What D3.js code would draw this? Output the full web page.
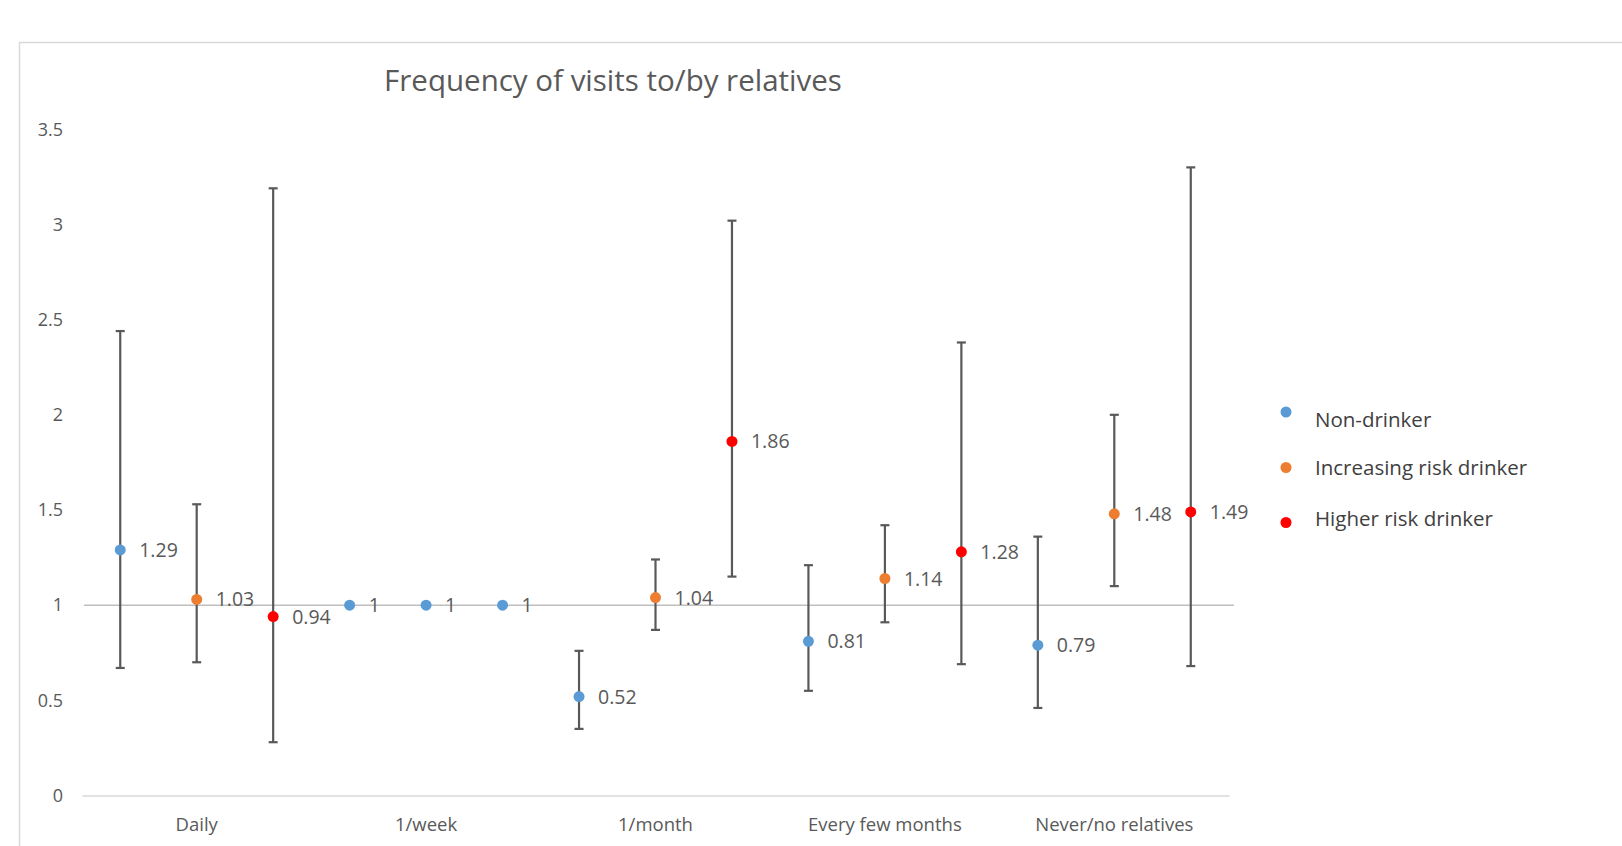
<!DOCTYPE html>
<html>
<head>
<meta charset="utf-8">
<script src="https://cdn.jsdelivr.net/npm/d3@7"></script>
<style>
  html, body { margin: 0; padding: 0; background: #fff; }
  svg { display: block; }
</style>
</head>
<body>
<svg id="chart" width="1622" height="846"></svg>
<script>
// ---- Data ----
const categories = ["Daily", "1/week", "1/month", "Every few months", "Never/no relatives"];
const seriesNames = ["Non-drinker", "Increasing risk drinker", "Higher risk drinker"];
const seriesColors = ["#5b9bd5", "#ed7d31", "#ff0000"];
const referenceCategory = "1/week";

const nonDrinker      = [1.29, 1, 0.52, 0.81, 0.79];
const nonDrinkerLow   = [0.67, null, 0.35, 0.55, 0.46];
const nonDrinkerHigh  = [2.44, null, 0.76, 1.21, 1.36];

const increasing      = [1.03, 1, 1.04, 1.14, 1.48];
const increasingLow   = [0.70, null, 0.87, 0.91, 1.10];
const increasingHigh  = [1.53, null, 1.24, 1.42, 2.00];

const higher          = [0.94, 1, 1.86, 1.28, 1.49];
const higherLow       = [0.28, null, 1.15, 0.69, 0.68];
const higherHigh      = [3.19, null, 3.02, 2.38, 3.30];

const yTicks = [0, 0.5, 1, 1.5, 2, 2.5, 3, 3.5];
const title = "Frequency of visits to/by relatives";

const seriesValues = [nonDrinker, increasing, higher];
const seriesLows = [nonDrinkerLow, increasingLow, higherLow];
const seriesHighs = [nonDrinkerHigh, increasingHigh, higherHigh];

// ---- Layout ----
const svg = d3.select("#chart");
const font = "'Open Sans', 'Liberation Sans', sans-serif";
const textColor = "#595959";

// frame
svg.append("rect")
  .attr("x", 19.5).attr("y", 42.5)
  .attr("width", 1700).attr("height", 900)
  .attr("fill", "none").attr("stroke", "#d9d9d9").attr("stroke-width", 1.5);

const x = d3.scaleBand().domain(categories).range([82, 1229]).padding(0);
const xs = d3.scaleBand().domain(seriesNames).range([0, x.bandwidth()]).padding(0);
const y = d3.scaleLinear().domain([0, 3.5]).range([795.5, 129.3]);

// title
svg.append("text")
  .attr("x", 613).attr("y", 91)
  .attr("text-anchor", "middle")
  .attr("font-family", font).attr("font-size", 29.5)
  .attr("fill", textColor)
  .text(title);

// y axis
const yAxis = svg.append("g")
  .attr("transform", "translate(63,0)")
  .call(d3.axisLeft(y).tickValues(yTicks).tickSize(0).tickPadding(0)
        .tickFormat(d => String(d)));
yAxis.select(".domain").remove();
yAxis.selectAll("text")
  .attr("font-family", font).attr("font-size", 18).attr("fill", textColor);

// x axis
const xAxis = svg.append("g")
  .attr("transform", `translate(0,${y(0)})`)
  .call(d3.axisBottom(x).tickSize(0).tickPadding(22));
xAxis.select(".domain").attr("stroke", "#d9d9d9").attr("stroke-width", 1.5);
xAxis.selectAll("text")
  .attr("font-family", font).attr("font-size", 18.5).attr("fill", textColor);

// reference line at 1
svg.append("line")
  .attr("x1", 84).attr("x2", 1234)
  .attr("y1", y(1)).attr("y2", y(1))
  .attr("stroke", "#bfbfbf").attr("stroke-width", 1.5);

// build point records
const points = [];
seriesNames.forEach((s, si) => {
  categories.forEach((c, ci) => {
    points.push({
      series: s, si, cat: c,
      value: seriesValues[si][ci],
      low: seriesLows[si][ci],
      high: seriesHighs[si][ci]
    });
  });
});
const px = d => x(d.cat) + xs(d.series) + xs.bandwidth() / 2;
const pcolor = d => d.cat === referenceCategory ? seriesColors[0] : seriesColors[d.si];

// error bars
const eb = svg.append("g").attr("stroke", "#595959").attr("stroke-width", 2.2);
const withErr = points.filter(d => d.low != null && d.high != null);
eb.selectAll("line.v").data(withErr).join("line")
  .attr("class", "v")
  .attr("x1", px).attr("x2", px)
  .attr("y1", d => y(d.high)).attr("y2", d => y(d.low));
eb.selectAll("line.t").data(withErr).join("line")
  .attr("class", "t")
  .attr("x1", d => px(d) - 4.5).attr("x2", d => px(d) + 4.5)
  .attr("y1", d => y(d.high)).attr("y2", d => y(d.high));
eb.selectAll("line.b").data(withErr).join("line")
  .attr("class", "b")
  .attr("x1", d => px(d) - 4.5).attr("x2", d => px(d) + 4.5)
  .attr("y1", d => y(d.low)).attr("y2", d => y(d.low));

// points
svg.append("g").selectAll("circle").data(points).join("circle")
  .attr("cx", px).attr("cy", d => y(d.value)).attr("r", 5.5)
  .attr("fill", pcolor);

// data labels
svg.append("g").selectAll("text").data(points).join("text")
  .attr("x", d => px(d) + 19).attr("y", d => y(d.value) + 7)
  .attr("font-family", font).attr("font-size", 19.5).attr("fill", textColor)
  .text(d => String(d.value));

// legend
const legend = svg.append("g");
const legDotY = [412, 467.5, 522.5];
const legTextY = [419, 466.5, 518];
seriesNames.forEach((s, i) => {
  legend.append("circle")
    .attr("cx", 1286).attr("cy", legDotY[i]).attr("r", 5.5).attr("fill", seriesColors[i]);
  legend.append("text")
    .attr("x", 1315).attr("y", legTextY[i])
    .attr("dominant-baseline", "central")
    .attr("font-family", font).attr("font-size", 20.5).attr("fill", "#404040")
    .text(s);
});
</script>
</body>
</html>
